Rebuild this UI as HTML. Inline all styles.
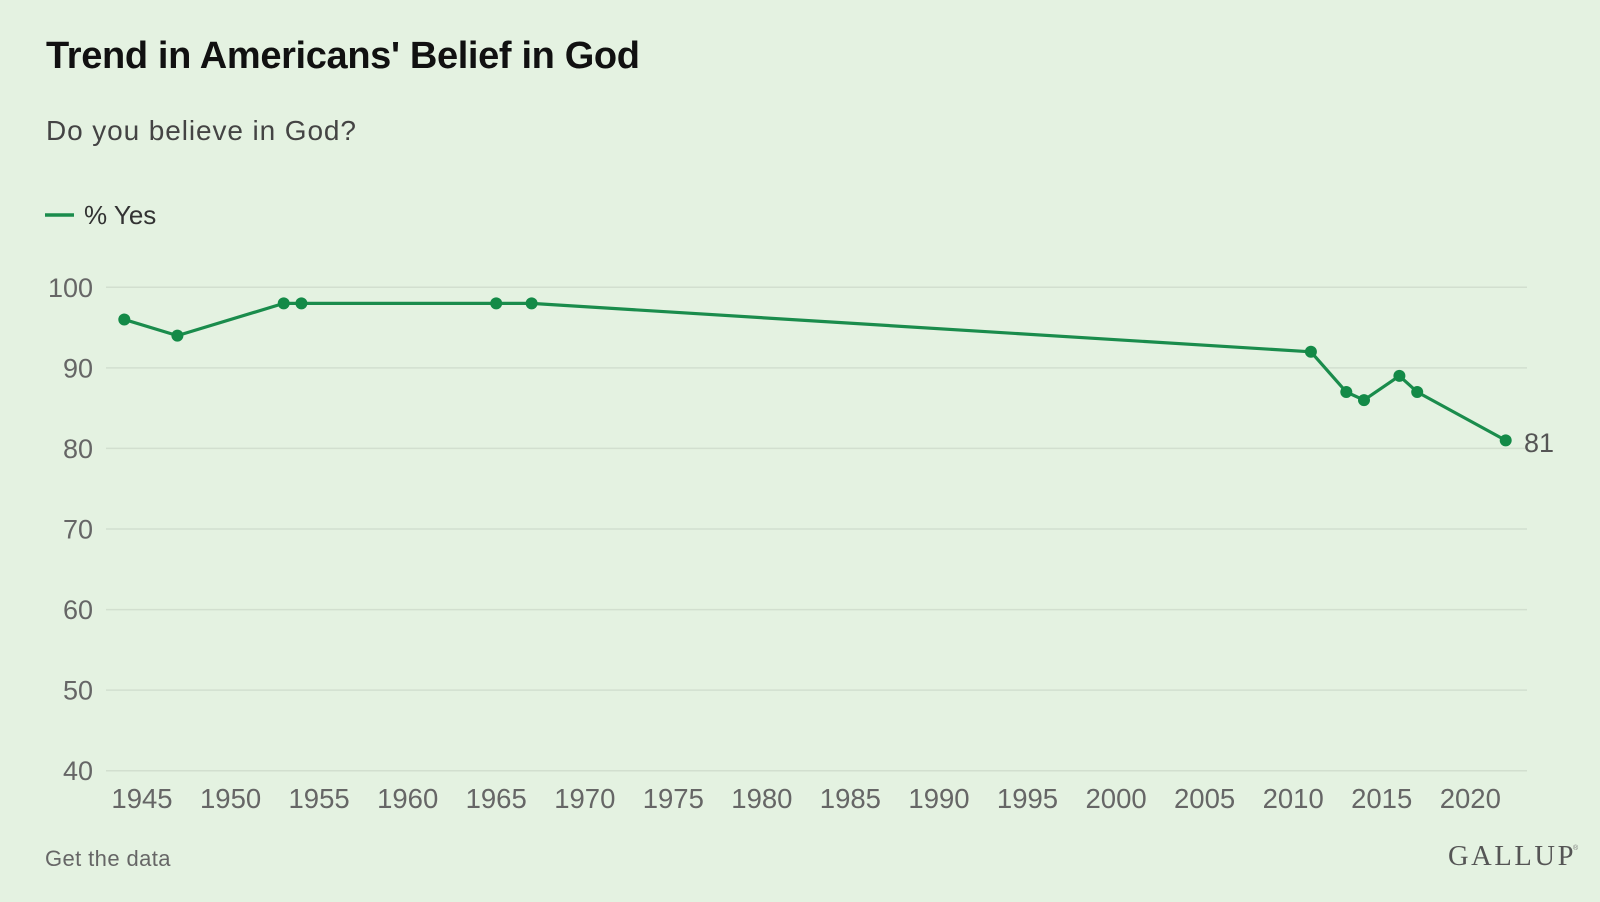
<!DOCTYPE html>
<html>
<head>
<meta charset="utf-8">
<style>
  html, body { margin: 0; padding: 0; }
  body { width: 1600px; height: 902px; background: #e4f2e1; overflow: hidden; }
  svg { display: block; }
  text { font-family: "Liberation Sans", Arial, sans-serif; }
</style>
</head>
<body>
<svg width="1600" height="902" viewBox="0 0 1600 902" xmlns="http://www.w3.org/2000/svg">
  <rect x="0" y="0" width="1600" height="902" fill="#e4f2e1"/>

  <!-- Title -->
  <text x="46" y="68" font-size="38" font-weight="bold" fill="#111" letter-spacing="-0.35">Trend in Americans' Belief in God</text>
  <!-- Subtitle -->
  <text x="46" y="140" font-size="28" fill="#444" letter-spacing="0.9">Do you believe in God?</text>

  <!-- Legend -->
  <line x1="45" y1="215" x2="74" y2="215" stroke="#1a8c4c" stroke-width="3.5"/>
  <text x="84" y="224" font-size="26" fill="#333">% Yes</text>

  <!-- Gridlines -->
  <g stroke="#d2dfcf" stroke-width="1.5">
    <line x1="106" y1="287.3" x2="1527" y2="287.3"/>
    <line x1="106" y1="367.9" x2="1527" y2="367.9"/>
    <line x1="106" y1="448.4" x2="1527" y2="448.4"/>
    <line x1="106" y1="529.0" x2="1527" y2="529.0"/>
    <line x1="106" y1="609.6" x2="1527" y2="609.6"/>
    <line x1="106" y1="690.1" x2="1527" y2="690.1"/>
    <line x1="106" y1="770.7" x2="1527" y2="770.7"/>
  </g>

  <!-- Y labels -->
  <g font-size="27" fill="#666" text-anchor="end">
    <text x="93" y="297">100</text>
    <text x="93" y="377.5">90</text>
    <text x="93" y="458">80</text>
    <text x="93" y="538.5">70</text>
    <text x="93" y="619">60</text>
    <text x="93" y="699.5">50</text>
    <text x="93" y="780">40</text>
  </g>

  <!-- X labels -->
  <g font-size="27.5" fill="#666" text-anchor="middle">
    <text x="142.0" y="808">1945</text>
    <text x="230.6" y="808">1950</text>
    <text x="319.1" y="808">1955</text>
    <text x="407.7" y="808">1960</text>
    <text x="496.2" y="808">1965</text>
    <text x="584.8" y="808">1970</text>
    <text x="673.3" y="808">1975</text>
    <text x="761.9" y="808">1980</text>
    <text x="850.4" y="808">1985</text>
    <text x="939.0" y="808">1990</text>
    <text x="1027.5" y="808">1995</text>
    <text x="1116.1" y="808">2000</text>
    <text x="1204.6" y="808">2005</text>
    <text x="1293.2" y="808">2010</text>
    <text x="1381.7" y="808">2015</text>
    <text x="1470.3" y="808">2020</text>
  </g>

  <!-- Series -->
  <polyline fill="none" stroke="#1a8c4c" stroke-width="3.2" stroke-linejoin="round" stroke-linecap="round"
    points="124.3,319.5 177.4,335.6 283.7,303.4 301.4,303.4 496.2,303.4 531.6,303.4 1310.9,351.8 1346.3,392.0 1364.0,400.1 1399.4,375.9 1417.2,392.0 1505.7,440.4"/>
  <g fill="#138a47">
    <circle cx="124.3" cy="319.5" r="6"/>
    <circle cx="177.4" cy="335.6" r="6"/>
    <circle cx="283.7" cy="303.4" r="6"/>
    <circle cx="301.4" cy="303.4" r="6"/>
    <circle cx="496.2" cy="303.4" r="6"/>
    <circle cx="531.6" cy="303.4" r="6"/>
    <circle cx="1310.9" cy="351.8" r="6"/>
    <circle cx="1346.3" cy="392.0" r="6"/>
    <circle cx="1364.0" cy="400.1" r="6"/>
    <circle cx="1399.4" cy="375.9" r="6"/>
    <circle cx="1417.2" cy="392.0" r="6"/>
    <circle cx="1505.7" cy="440.4" r="6"/>
  </g>
  <text x="1524" y="452" font-size="27" fill="#555">81</text>

  <!-- Footer -->
  <text x="45" y="866" font-size="22" fill="#666" letter-spacing="0.4">Get the data</text>
  <text x="1448" y="865" font-size="28.5" fill="#555" letter-spacing="2.6" style="font-family:'Liberation Serif', 'Times New Roman', serif;">GALLUP</text>
  <text x="1573" y="850" font-size="7" fill="#777" style="font-family:'Liberation Sans', sans-serif;">®</text>
</svg>
</body>
</html>
